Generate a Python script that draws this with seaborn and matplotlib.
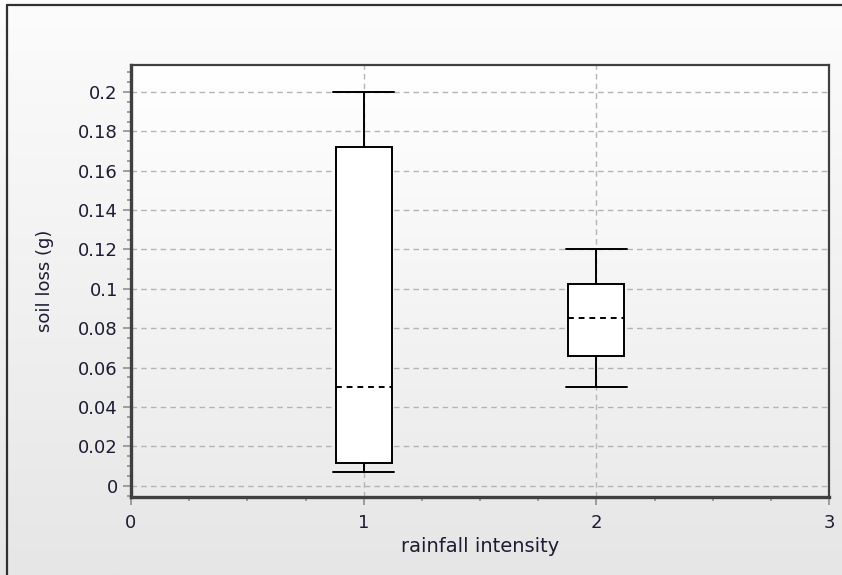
import numpy as np
import pandas as pd
import matplotlib
matplotlib.use("Agg")
import matplotlib.pyplot as plt
import seaborn as sns
from matplotlib.lines import Line2D
from matplotlib.ticker import MultipleLocator

# five-number summaries (min, q1, median, q3, max)
intensity_levels = [1, 2]
loss_intensity_1 = [0.007, 0.0115, 0.050, 0.172, 0.200]
loss_intensity_2 = [0.050, 0.066, 0.085, 0.1025, 0.120]
y_ticks = [0, 0.02, 0.04, 0.06, 0.08, 0.1, 0.12, 0.14, 0.16, 0.18, 0.2]
y_tick_labels = ["0", "0.02", "0.04", "0.06", "0.08", "0.1", "0.12", "0.14", "0.16", "0.18", "0.2"]
x_ticks = [0, 1, 2, 3]
x_tick_labels = ["0", "1", "2", "3"]

df = pd.DataFrame({
    "rainfall intensity": [intensity_levels[0]] * len(loss_intensity_1) + [intensity_levels[1]] * len(loss_intensity_2),
    "soil loss (g)": loss_intensity_1 + loss_intensity_2,
})

sns.set_style("white")
plt.rcParams["font.family"] = ["DejaVu Sans"]
text_col = "#1c1c34"

fig = plt.figure(figsize=(8.42, 5.75), dpi=100)

# figure background gradient
bg = fig.add_axes([0, 0, 1, 1], zorder=-10)
grad = np.linspace(0, 1, 256).reshape(-1, 1)
bg.imshow(grad, aspect="auto", cmap=matplotlib.colors.LinearSegmentedColormap.from_list("bg", ["#fcfcfc", "#e6e6e6"]),
          extent=[0, 1, 0, 1], origin="upper")
bg.set_axis_off()

# dark frame lines on the left and top of the figure
fig.add_artist(Line2D([7 / 842, 7 / 842], [0, 1 - 5 / 575], transform=fig.transFigure, color="#303030", lw=1.6))
fig.add_artist(Line2D([7 / 842, 1], [1 - 5 / 575, 1 - 5 / 575], transform=fig.transFigure, color="#303030", lw=1.6))

ax = fig.add_axes([131 / 842, 1 - 497 / 575, (829 - 131) / 842, (497 - 65) / 575])
ymin, ymax = -0.0057, 0.2137

ax.imshow(grad, aspect="auto", cmap=matplotlib.colors.LinearSegmentedColormap.from_list("pa", ["#ffffff", "#ebebeb"]),
          extent=[0, 3, ymin, ymax], origin="upper", zorder=0)

sns.boxplot(data=df, x="rainfall intensity", y="soil loss (g)", native_scale=True, width=0.24,
            color="white", linecolor="black", linewidth=1.4, whis=10, showfliers=False,
            capwidths=0.26,
            medianprops=dict(color="black", linestyle=(0, (3, 2.5)), linewidth=1.4),
            ax=ax, zorder=3)

ax.set_xlim(0, 3)
ax.set_ylim(ymin, ymax)
ax.set_xticks(x_ticks)
ax.set_xticklabels(x_tick_labels)
ax.set_yticks(y_ticks)
ax.set_yticklabels(y_tick_labels)
ax.xaxis.set_minor_locator(MultipleLocator(0.25))
ax.yaxis.set_minor_locator(MultipleLocator(0.005))

ax.grid(True, which="major", color="#b4b4b4", linestyle=(0, (4, 3)), linewidth=1.0, zorder=1)
ax.set_axisbelow(True)

ax.tick_params(axis="both", which="major", direction="out", length=6, width=1.2, color="#909090",
               labelsize=13, labelcolor=text_col, left=True, bottom=True)
ax.tick_params(axis="both", which="minor", direction="out", length=3, width=1.2, color="#909090",
               left=True, bottom=True)
ax.tick_params(axis="x", pad=6.5)

for side in ["left", "bottom"]:
    ax.spines[side].set_linewidth(2.4)
    ax.spines[side].set_color("#404040")
for side in ["top", "right"]:
    ax.spines[side].set_linewidth(1.6)
    ax.spines[side].set_color("#404040")
    ax.spines[side].set_visible(True)

ax.set_xlabel("rainfall intensity", fontsize=14, color=text_col, labelpad=3)
ax.set_ylabel("soil loss (g)", fontsize=13, color=text_col, labelpad=17)

fig.savefig("out.png", dpi=100)
